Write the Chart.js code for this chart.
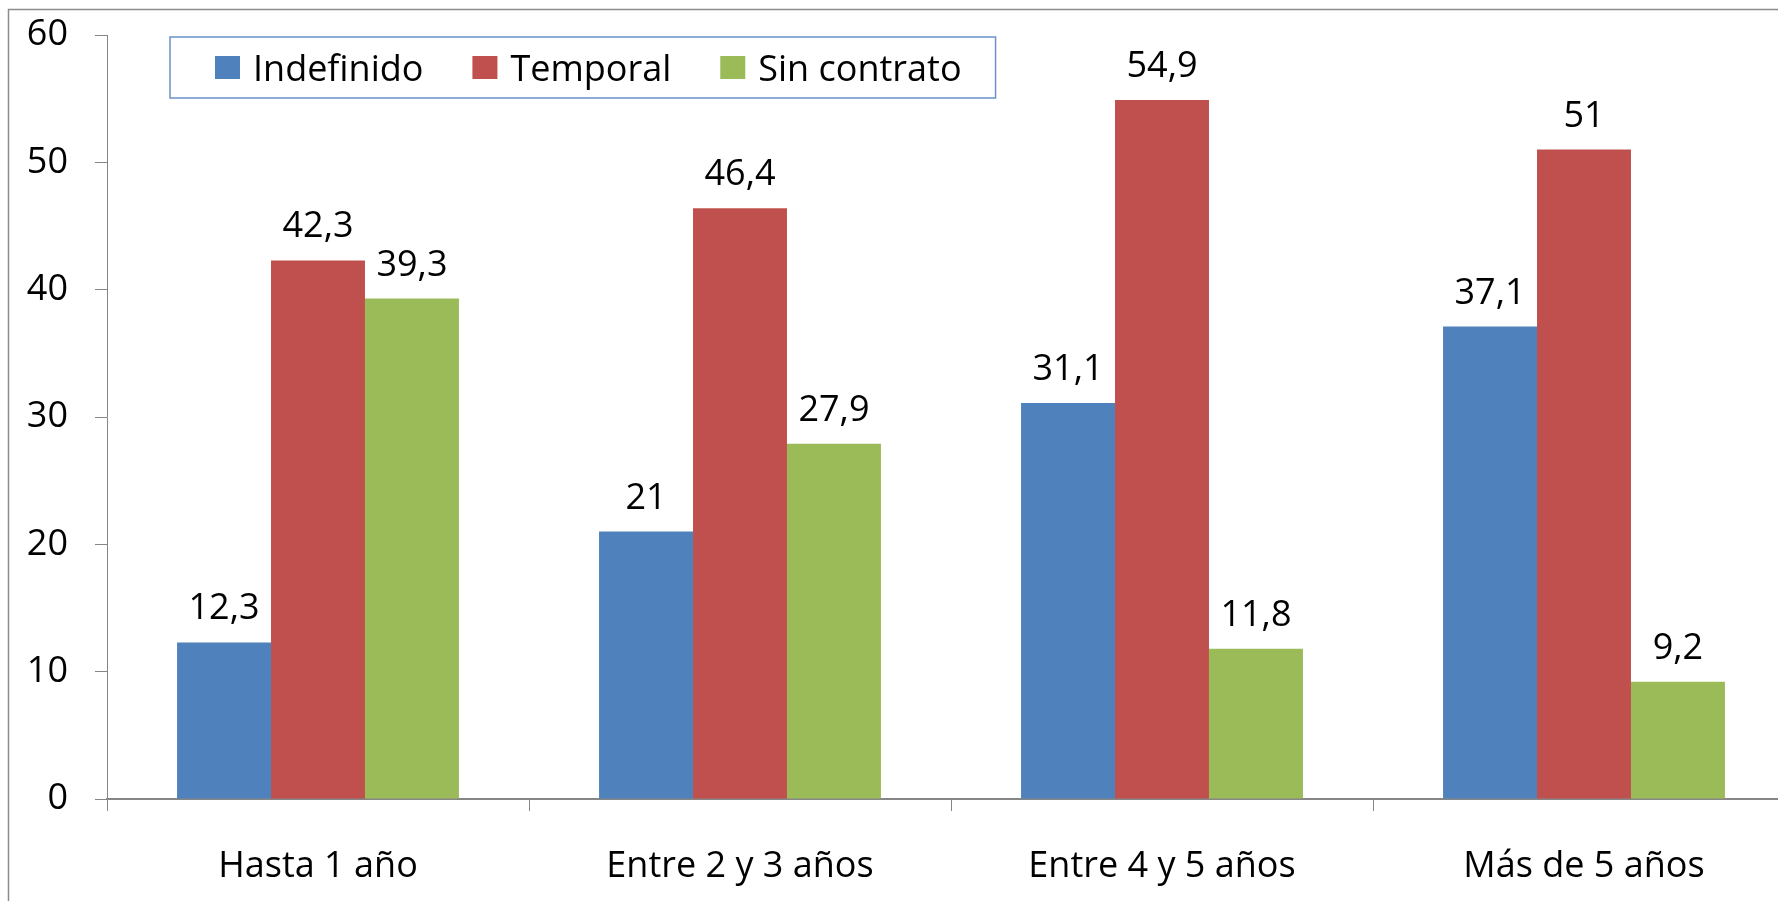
<!DOCTYPE html>
<html>
<head>
<meta charset="utf-8">
<title>Tipo de contrato por antigüedad</title>
<script src="https://cdn.jsdelivr.net/npm/chart.js@4"></script>
<style>
  html, body { margin: 0; padding: 0; background: #fff; overflow: hidden; }
  canvas { display: block; }
</style>
</head>
<body>
<canvas id="contratoChart" width="1800" height="920"></canvas>
<script>
const categories = ['Hasta 1 año', 'Entre 2 y 3 años', 'Entre 4 y 5 años', 'Más de 5 años'];
const indefinido = [12.3, 21, 31.1, 37.1];
const temporal = [42.3, 46.4, 54.9, 51];
const sinContrato = [39.3, 27.9, 11.8, 9.2];
const yMin = 0, yMax = 60, yStep = 10;

const FONT = '"Open Sans", Lato, sans-serif';
const FONT_SIZE = 36;
const AXIS_GREY = '#868686';

// etiquetas de valor encima de cada barra (coma decimal)
const valueLabels = {
  id: 'valueLabels',
  afterDatasetsDraw(chart) {
    const ctx = chart.ctx;
    ctx.save();
    ctx.font = FONT_SIZE + 'px ' + FONT;
    ctx.fillStyle = '#000';
    ctx.textAlign = 'center';
    ctx.textBaseline = 'alphabetic';
    chart.data.datasets.forEach((ds, i) => {
      chart.getDatasetMeta(i).data.forEach((bar, j) => {
        ctx.fillText(String(ds.data[j]).replace('.', ','), bar.x, bar.y - 23);
      });
    });
    ctx.restore();
  }
};

// marco exterior + leyenda con borde dentro del área del gráfico
const frameAndLegend = {
  id: 'frameAndLegend',
  afterDraw(chart) {
    const ctx = chart.ctx;
    const area = chart.chartArea;
    ctx.save();
    ctx.strokeStyle = '#8c8c8c';
    ctx.lineWidth = 1.5;
    ctx.strokeRect(8.5, 9.5, chart.width + 20, chart.height + 20);

    ctx.font = FONT_SIZE + 'px ' + FONT;
    ctx.textBaseline = 'alphabetic';
    const boxLeft = area.left + 63, boxTop = 37, boxH = 61;
    let x = boxLeft + 45;
    chart.data.datasets.forEach((ds, i) => {
      ctx.fillStyle = ds.backgroundColor;
      ctx.fillRect(x, 56, 25, 23);
      x += 25 + 13;
      ctx.fillStyle = '#000';
      ctx.fillText(ds.label, x, 81);
      x += ctx.measureText(ds.label).width;
      if (i < chart.data.datasets.length - 1) x += 49;
    });
    ctx.strokeStyle = '#6a92c9';
    ctx.lineWidth = 1.5;
    ctx.strokeRect(boxLeft, boxTop, x + 34 - boxLeft, boxH);
    ctx.restore();
  }
};

const ctx = document.getElementById('contratoChart').getContext('2d');
const contratoChart = new Chart(ctx, {
  type: 'bar',
  data: {
    labels: categories,
    datasets: [
      { label: 'Indefinido', data: indefinido, backgroundColor: '#4f81bd' },
      { label: 'Temporal', data: temporal, backgroundColor: '#c0504d' },
      { label: 'Sin contrato', data: sinContrato, backgroundColor: '#9bbb59' }
    ]
  },
  options: {
    responsive: false,
    animation: false,
    devicePixelRatio: 1,
    layout: { padding: { left: 0, top: 35, right: 5, bottom: 0 } },
    datasets: {
      bar: { categoryPercentage: 0.668, barPercentage: 1.0, borderWidth: 0 }
    },
    scales: {
      x: {
        grid: { offset: true, drawOnChartArea: false, drawTicks: true, tickLength: 12, color: AXIS_GREY, lineWidth: 1 },
        border: { color: AXIS_GREY, width: 2 },
        ticks: { color: '#000', font: { family: FONT, size: FONT_SIZE }, padding: 34, maxRotation: 0 },
        afterFit(scale) { scale.height = 121; }
      },
      y: {
        min: yMin,
        max: yMax,
        grid: { drawOnChartArea: false, drawTicks: true, tickLength: 12, color: AXIS_GREY, lineWidth: 1 },
        border: { color: AXIS_GREY, width: 1 },
        ticks: { stepSize: yStep, color: '#000', font: { family: FONT, size: FONT_SIZE }, padding: 27 },
        afterFit(scale) {
          scale.width = 107;
          // el padding de los ticks no debe empujar el área hacia abajo
          scale.paddingTop = 0;
          scale.paddingBottom = 0;
        }
      }
    },
    plugins: {
      legend: { display: false },
      tooltip: { enabled: false }
    }
  },
  plugins: [valueLabels, frameAndLegend]
});
</script>
</body>
</html>
